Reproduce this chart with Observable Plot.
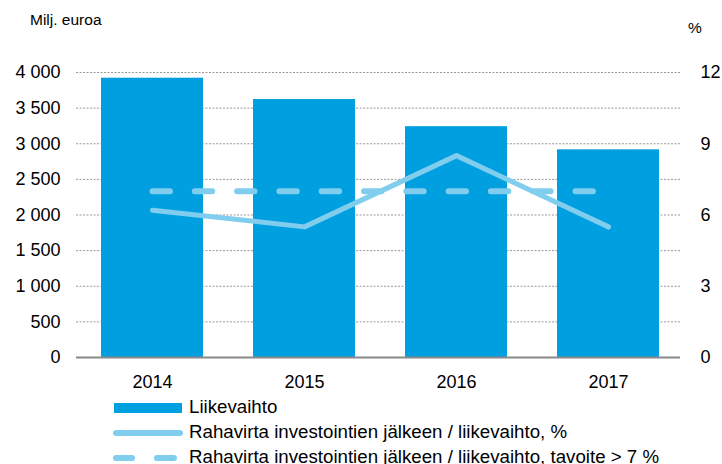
<!DOCTYPE html>
<html><head><meta charset="utf-8">
<script src="https://cdn.jsdelivr.net/npm/d3@7"></script>
<script src="https://cdn.jsdelivr.net/npm/@observablehq/plot@0.6"></script>
<style>
body{margin:0;background:#fff;font-family:"Liberation Sans",Arial,sans-serif;}
#wrap{position:relative;width:722px;height:464px;overflow:hidden;}
.lbl{position:absolute;font-size:15.5px;line-height:16px;color:#000;}
.leg{position:absolute;left:113px;width:600px;height:22px;font-size:18.7px;line-height:22px;color:#000;}
.leg svg{position:absolute;left:0;top:1px;}
.leg span{position:absolute;left:76px;top:0;white-space:nowrap;}
</style></head>
<body><div id="wrap"></div>
<script>
const years = ["2014","2015","2016","2017"];
const revenue = [3920, 3620, 3240, 2915];
const cashflowPct = [6.2, 5.5, 8.5, 5.5];
const targetPct = [7, 7, 7, 7];
const leftTicks = [0,500,1000,1500,2000,2500,3000,3500,4000];
const rightTicks = [0,3,6,9,12];
const seriesNames = ["Liikevaihto","Rahavirta investointien jälkeen / liikevaihto, %","Rahavirta investointien jälkeen / liikevaihto, tavoite > 7 %"];

const barColor = "#009fe0", lineColor = "#80cdee";
const k = 4000/12;
const rows = years.map((y,i)=>({year:y, rev:revenue[i], pct:cashflowPct[i], tgt:targetPct[i]}));
const fmt = d => d3.format(",")(d).replace(/,/g, "\u00a0");

const chart = Plot.plot({
  width: 722, height: 395,
  marginLeft: 76, marginRight: 38, marginTop: 72, marginBottom: 38,
  style: {fontFamily: '"Liberation Sans", Arial, sans-serif', fontSize: "18px", color: "#000", background: "#fff"},
  x: {domain: years, paddingInner: 0.328, paddingOuter: 0.164, label: null},
  y: {domain: [0, 4000], label: null},
  marks: [
    Plot.ruleY(leftTicks.filter(d=>d>0), {stroke: "#999", strokeDasharray: "2,1.5", strokeWidth: 1, insetRight: 4}),
    Plot.barY(rows, {x: "year", y: "rev", fill: barColor}),
    Plot.ruleY([0], {stroke: "#888", strokeWidth: 2, insetRight: 4}),
    Plot.line(rows, {x: "year", y: d => d.tgt*k, stroke: lineColor, strokeWidth: 6, strokeDasharray: "17.4,24.9", strokeLinecap: "round"}),
    Plot.line(rows, {x: "year", y: d => d.pct*k, stroke: lineColor, strokeWidth: 5, strokeLinecap: "round", strokeLinejoin: "round"}),
    Plot.axisX({tickSize: 0, tickPadding: 18, fontSize: 18, label: null}),
    Plot.axisY({ticks: leftTicks, tickSize: 0, tickPadding: 16, tickFormat: fmt, fontSize: 18, label: null}),
    Plot.axisY({anchor: "right", ticks: rightTicks.map(d=>d*k), tickSize: 0, tickPadding: 16, tickFormat: d => Math.round(d/k), fontSize: 18, label: null})
  ]
});
const wrap = document.getElementById("wrap");
wrap.appendChild(chart);

function addLabel(text, left, top){ const d=document.createElement("div"); d.className="lbl"; d.textContent=text; d.style.left=left+"px"; d.style.top=top+"px"; wrap.appendChild(d); }
addLabel("Milj. euroa", 30, 12);
addLabel("%", 688, 20);

const legTops = [396, 421, 446];
const swatches = [
  `<rect x="1" y="6" width="68" height="10" fill="${barColor}"/>`,
  `<line x1="3" y1="11" x2="67" y2="11" stroke="${lineColor}" stroke-width="6" stroke-linecap="round"/>`,
  `<line x1="3" y1="11" x2="19" y2="11" stroke="${lineColor}" stroke-width="6" stroke-linecap="round"/><line x1="44" y1="11" x2="61" y2="11" stroke="${lineColor}" stroke-width="6" stroke-linecap="round"/>`
];
seriesNames.forEach((n,i)=>{
  const d=document.createElement("div"); d.className="leg"; d.style.top=legTops[i]+"px";
  d.innerHTML=`<svg width="72" height="22">${swatches[i]}</svg><span>${n}</span>`;
  wrap.appendChild(d);
});
</script></body></html>
